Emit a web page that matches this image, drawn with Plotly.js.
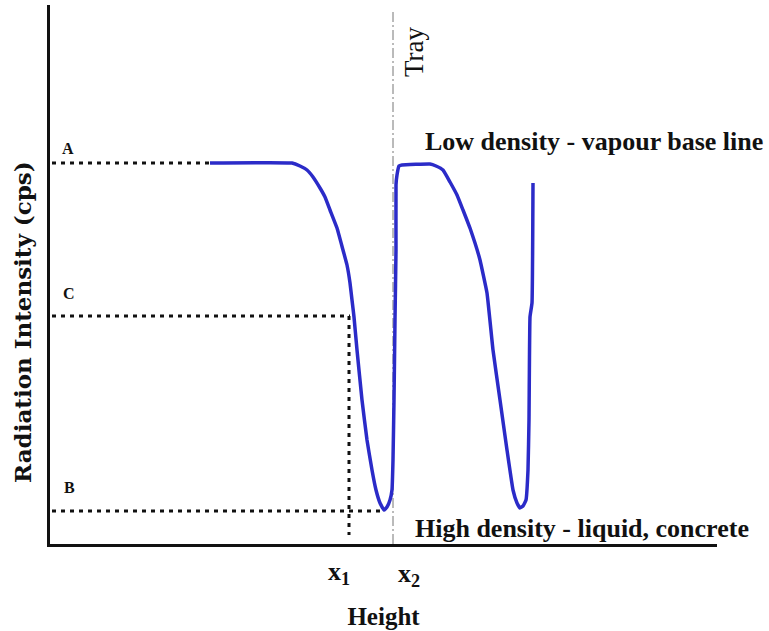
<!DOCTYPE html>
<html>
<head>
<meta charset="utf-8">
<script src="https://cdn.plot.ly/plotly-3.0.1.min.js"></script>
<style>html,body{margin:0;padding:0;background:#fff;}#chart{width:769px;height:631px;}</style>
</head>
<body>
<div id="chart"></div>
<script>
// Height (arbitrary units) and radiation intensity (arbitrary units)
const scanHeight = [160,242,250,257,263,270,275,280,287,293,297,300,302,304,307,312,317,322,326,330,334,337,340,342,343,344,345,346,346,347,349,352,380,386,393,400,407,413,420,425,430,437,443,450,457,463,467,470,473,476,478,479,480,482,483];
const scanIntensity = [381,381,378,374,367,356,347,334,316,294,279,261,244,227,194,144,104,74,54,41,34,37,44,54,84,144,224,294,359,369,378,379,380,378,374,362,349,334,316,301,284,251,194,144,94,54,41,36,38,44,74,124,227,241,361];

const levelA = 381, levelC = 228, levelB = 33;
const x1 = 299, x2 = 343;
const dotStartX = 2, aEndX = 160, cEndX = 300, bEndX = 334;
const x1Bottom = 9, trayTop = 534;

const serif = "Liberation Serif, Times New Roman, serif";
const dotted = {color: '#111', width: 3, dash: '4px,5px'};

const traces = [
  {x: [dotStartX, aEndX], y: [levelA, levelA], mode: 'lines', line: dotted, hoverinfo: 'skip'},
  {x: [dotStartX, cEndX], y: [levelC, levelC], mode: 'lines', line: dotted, hoverinfo: 'skip'},
  {x: [dotStartX, bEndX], y: [levelB, levelB], mode: 'lines', line: dotted, hoverinfo: 'skip'},
  {x: [x1, x1], y: [levelC, x1Bottom], mode: 'lines', line: dotted, hoverinfo: 'skip'},
  {x: [x2, x2], y: [0, trayTop], mode: 'lines', line: {color: '#777', width: 1, dash: '10px,3px,2px,3px'}, hoverinfo: 'skip'},
  {x: scanHeight, y: scanIntensity, mode: 'lines', line: {color: '#2b2bc8', width: 3.5, shape: 'spline', smoothing: 0.3}, name: 'Scan'}
];

const ann = (x, y, text, size, opts) => Object.assign({
  x: x, y: y, xref: 'x', yref: 'y', text: text, showarrow: false,
  font: {family: serif, size: size, color: '#111'}, xanchor: 'left', yanchor: 'middle'
}, opts || {});

const layout = {
  width: 769, height: 631,
  margin: {l: 50, r: 52, t: 5, b: 87},
  paper_bgcolor: '#fff', plot_bgcolor: '#fff',
  showlegend: false,
  xaxis: {range: [0, 667], showgrid: false, zeroline: false, showticklabels: false, ticks: '',
          showline: true, linecolor: '#111', linewidth: 3, fixedrange: true,
          title: {text: '<b>Height</b>', font: {family: serif, size: 25, color: '#111'}, standoff: 62}},
  yaxis: {range: [0, 539], showgrid: false, zeroline: false, showticklabels: false, ticks: '',
          showline: true, linecolor: '#111', linewidth: 3, fixedrange: true},
  annotations: [
    ann(10, 396, '<b>A</b>', 16),
    ann(11, 251, '<b>C</b>', 16),
    ann(12, 57, '<b>B</b>', 16),
    ann(364, 492, 'Tray', 27, {xanchor: 'center', textangle: -90}),
    ann(373, 403, '<b>Low density - vapour base line</b>', 26),
    ann(363, 16, '<b>High density - liquid, concrete</b>', 26),
    ann(276, -0.054, '<b>x<sub>1</sub></b>', 26, {yref: 'paper'}),
    ann(346, -0.058, '<b>x<sub>2</sub></b>', 26, {yref: 'paper'}),
    ann(-0.042, 222, '<b>Radiation Intensity (cps)</b>', 23, {xref: 'paper', xanchor: 'center', textangle: -90, font: {family: 'DejaVu Serif, serif', size: 23, color: '#111'}})
  ]
};

Plotly.newPlot('chart', traces, layout, {displayModeBar: false, staticPlot: true});
</script>
</body>
</html>
